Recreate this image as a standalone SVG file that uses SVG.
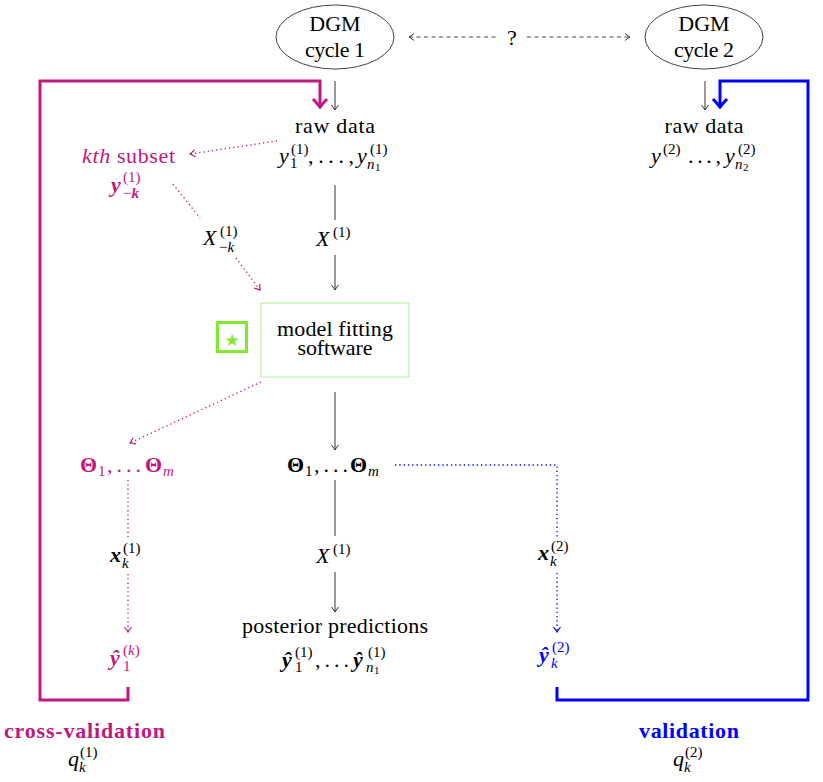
<svg xmlns="http://www.w3.org/2000/svg" width="823" height="782" viewBox="0 0 823 782">
<style>
.t{font-family:"Liberation Serif","DejaVu Serif",serif;font-size:21px;fill:#000}
.m{font-size:22px}
.c{text-anchor:middle}
.i{font-style:italic}
.bi{font-style:italic;font-weight:bold}
.bf{font-weight:bold}
.sc{font-size:15px}
.ss{font-size:11px}
.th{font-size:22px}
.mg{fill:#C0187E}
.bl{fill:#0000FF}
.k{fill:none;stroke:#333;stroke-width:1}
.dash{fill:none;stroke:#444;stroke-width:1;stroke-dasharray:4 3.5}
.dm{fill:none;stroke:#C0187E;stroke-width:1.3;stroke-dasharray:1.3 3}
.db{fill:none;stroke:#0000FF;stroke-width:1.3;stroke-dasharray:1.3 3}
.tm{fill:none;stroke:#C0187E;stroke-width:3}
.tb{fill:none;stroke:#0000FF;stroke-width:3}
</style>
<defs>
<marker id="ak" viewBox="-6 -5 7 10" refX="0" refY="0" markerWidth="7" markerHeight="10" orient="auto-start-reverse" markerUnits="userSpaceOnUse"><path d="M-5,-3.5 Q-1.5,-0.8 0,0 Q-1.5,0.8 -5,3.5" fill="none" stroke="#333" stroke-width="1"/></marker>
<marker id="am" viewBox="-6 -5 7 10" refX="0" refY="0" markerWidth="7" markerHeight="10" orient="auto" markerUnits="userSpaceOnUse"><path d="M-5,-3.5 Q-1.5,-0.8 0,0 Q-1.5,0.8 -5,3.5" fill="none" stroke="#C0187E" stroke-width="1.2"/></marker>
<marker id="ab" viewBox="-6 -5 7 10" refX="0" refY="0" markerWidth="7" markerHeight="10" orient="auto" markerUnits="userSpaceOnUse"><path d="M-5,-3.5 Q-1.5,-0.8 0,0 Q-1.5,0.8 -5,3.5" fill="none" stroke="#0000FF" stroke-width="1.2"/></marker>
<marker id="aM" viewBox="-11 -9 13 18" refX="0" refY="0" markerWidth="13" markerHeight="18" orient="auto" markerUnits="userSpaceOnUse"><path d="M-8,-7 Q-2,-1.5 0,0 Q-2,1.5 -8,7" fill="none" stroke="#C0187E" stroke-width="3"/></marker>
<marker id="aB" viewBox="-11 -9 13 18" refX="0" refY="0" markerWidth="13" markerHeight="18" orient="auto" markerUnits="userSpaceOnUse"><path d="M-8,-7 Q-2,-1.5 0,0 Q-2,1.5 -8,7" fill="none" stroke="#0000FF" stroke-width="3"/></marker>
</defs>
<rect width="823" height="782" fill="#fff"/>

<g id="connectors">
<path class="dash" d="M409,37 H497" marker-start="url(#ak)"/>
<path class="dash" d="M527,37 H630" marker-end="url(#ak)"/>
<path class="k" d="M335,81 V110" marker-end="url(#ak)"/>
<path class="k" d="M705,81 V110" marker-end="url(#ak)"/>
<path class="k" d="M335,185 V220"/>
<path class="k" d="M335,255 V290" marker-end="url(#ak)"/>
<path class="k" d="M335,392 V450" marker-end="url(#ak)"/>
<path class="k" d="M335,480 V536"/>
<path class="k" d="M335,572 V612" marker-end="url(#ak)"/>
<path class="tm" d="M128,687 V700 H40 V81 H320 V107" marker-end="url(#aM)"/>
<path class="tb" d="M557,687 V700 H808 V81 H720 V107" marker-end="url(#aB)"/>
<path class="dm" d="M277,141 L190,154" marker-end="url(#am)"/>
<path class="dm" d="M173,184 L200,218"/>
<path class="dm" d="M236,258 L260,290" marker-end="url(#am)"/>
<path class="dm" d="M261,382 L130,443" marker-end="url(#am)"/>
<path class="dm" d="M128,480 V540"/>
<path class="dm" d="M128,574 V632" marker-end="url(#am)"/>
<path class="db" d="M395,465 H557 V537"/>
<path class="db" d="M557,573 V632" marker-end="url(#ab)"/>
</g>

<g id="dgm1">
<ellipse cx="335" cy="37" rx="59" ry="32" fill="#fff" stroke="#444" stroke-width="1"/>
<text class="t m c" x="335" y="31">DGM</text>
<text class="t m c" x="335" y="57" textLength="60">cycle 1</text>
</g>
<g id="dgm2">
<ellipse cx="704" cy="37" rx="59" ry="32" fill="#fff" stroke="#444" stroke-width="1"/>
<text class="t m c" x="704" y="31">DGM</text>
<text class="t m c" x="704" y="57" textLength="60">cycle 2</text>
</g>
<g id="question">
<text class="t m c" x="512" y="45">?</text>
</g>

<g id="raw1">
<text class="t m c" x="335" y="133" textLength="80">raw data</text>
<text class="t m i" x="279" y="163">y</text>
<text class="t sc" x="291" y="154">(1)</text>
<text class="t sc" x="290" y="168">1</text>
<text class="t m" x="308" y="163" textLength="46">, . . . ,</text>
<text class="t m i" x="357" y="163">y</text>
<text class="t sc i" x="367" y="169">n</text>
<text class="t ss" x="375" y="171">1</text>
<text class="t sc" x="370" y="154">(1)</text>
</g>

<g id="raw2">
<text class="t m c" x="704" y="133" textLength="79">raw data</text>
<text class="t m i" x="651" y="163">y</text>
<text class="t sc" x="663" y="154">(2)</text>
<text class="t m" x="688" y="163" textLength="33">. . . ,</text>
<text class="t m i" x="725" y="163">y</text>
<text class="t sc i" x="735" y="169">n</text>
<text class="t ss" x="743" y="171">2</text>
<text class="t sc" x="738" y="154">(2)</text>
</g>

<g id="subset">
<text class="t m mg" x="82" y="163" textLength="93"><tspan class="i">kth</tspan> subset</text>
<text class="t m bi mg" x="111" y="192">y</text>
<text class="t sc mg" x="123" y="182">(1)</text>
<text class="t sc mg" x="123" y="198">−<tspan class="bi">k</tspan></text>
</g>

<g id="label-xk">
<text class="t m i" x="203" y="245">X</text>
<text class="t sc" x="220" y="236">(1)</text>
<text class="t sc" x="219" y="252">−<tspan class="i">k</tspan></text>
</g>
<g id="label-x1a">
<text class="t m i" x="316" y="246">X</text>
<text class="t sc" x="333" y="237">(1)</text>
</g>

<g id="model">
<rect x="261" y="303" width="148" height="74" fill="#fff" stroke="#B0F090" stroke-width="1"/>
<text class="t m c" x="335" y="336" textLength="116">model fitting</text>
<text class="t m c" x="335" y="355" textLength="75">software</text>
</g>
<g id="star">
<rect x="217.5" y="322.5" width="29" height="29" fill="none" stroke="#80E830" stroke-width="3"/>
<text x="232" y="345.5" text-anchor="middle" style="font-family:'DejaVu Sans',sans-serif;font-size:17px;fill:#80E830">★</text>
</g>

<g id="theta-cv">
<text class="t bf th mg" x="80" y="472">Θ</text>
<text class="t sc mg" x="98" y="476">1</text>
<text class="t m mg" x="107" y="472" textLength="34">, . . .</text>
<text class="t bf th mg" x="145" y="472">Θ</text>
<text class="t sc i mg" x="163" y="476">m</text>
</g>
<g id="theta">
<text class="t bf th" x="287" y="472">Θ</text>
<text class="t sc" x="305" y="476">1</text>
<text class="t m" x="314" y="472" textLength="34">, . . .</text>
<text class="t bf th" x="350" y="472">Θ</text>
<text class="t sc i" x="368" y="476">m</text>
</g>

<g id="label-xk1">
<text class="t m bi" x="110" y="562">x</text>
<text class="t sc" x="123" y="553">(1)</text>
<text class="t sc i" x="122" y="568">k</text>
</g>
<g id="yhat-cv">
<text class="t m bi mg" x="110" y="665">ŷ</text>
<text class="t sc mg" x="123" y="655">(<tspan class="i">k</tspan>)</text>
<text class="t sc mg" x="123" y="671">1</text>
</g>

<g id="label-x1b">
<text class="t m i" x="316" y="563">X</text>
<text class="t sc" x="333" y="554">(1)</text>
</g>
<g id="posterior">
<text class="t m c" x="335" y="633" textLength="186">posterior predictions</text>
<text class="t m bi" x="282" y="667">ŷ</text>
<text class="t sc" x="295" y="657">(1)</text>
<text class="t sc" x="295" y="672">1</text>
<text class="t m" x="315" y="667" textLength="34">, . . .</text>
<text class="t m bi" x="353" y="667">ŷ</text>
<text class="t sc i" x="366" y="672">n</text>
<text class="t ss" x="374" y="674">1</text>
<text class="t sc" x="368" y="657">(1)</text>
</g>

<g id="label-xk2">
<text class="t m bi" x="538" y="560">x</text>
<text class="t sc" x="551" y="551">(2)</text>
<text class="t sc i" x="550" y="566">k</text>
</g>
<g id="yhat-val">
<text class="t m bi bl" x="539" y="662">ŷ</text>
<text class="t sc bl" x="552" y="652">(2)</text>
<text class="t sc i bl" x="551" y="668">k</text>
</g>

<g id="cross-validation">
<text class="t m bf mg" x="4" y="738" textLength="161">cross-validation</text>
<text class="t m i" x="68" y="766">q</text>
<text class="t sc" x="80" y="757">(1)</text>
<text class="t sc i" x="79" y="772">k</text>
</g>
<g id="validation">
<text class="t m bf bl" x="639" y="738" textLength="100">validation</text>
<text class="t m i" x="673" y="766">q</text>
<text class="t sc" x="685" y="757">(2)</text>
<text class="t sc i" x="684" y="772">k</text>
</g>
</svg>
